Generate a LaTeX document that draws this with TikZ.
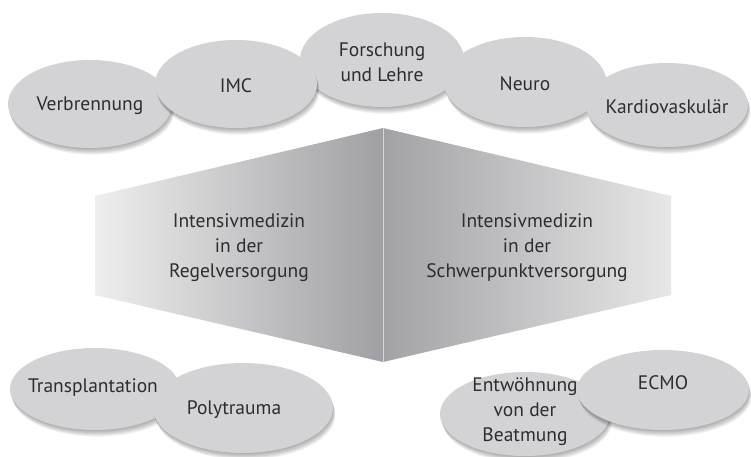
\documentclass[tikz,border=0pt]{standalone}
\usepackage{fontspec}
\setmainfont{PT Sans}
\usetikzlibrary{shapes.geometric}
\definecolor{bubblegray}{RGB}{211,211,213}
\definecolor{textgray}{RGB}{45,45,47}
\definecolor{panellight}{RGB}{238,238,238}
\definecolor{paneldark}{RGB}{160,160,164}
\definecolor{foldline}{RGB}{215,215,217}
\newcommand\bubbleshape[5]{%
  \foreach \s in {1,...,8} {%
    \node[shadowlayer, minimum width=#4pt, minimum height=#5pt] (#1s\s) at (#2+\s*0.3, #3+\s*0.85) {};}
  \node[bubble, minimum width=#4pt, minimum height=#5pt] (#1) at (#2,#3) {};}
\begin{document}
\begin{tikzpicture}[x=1pt,y=-1pt,
  shadowlayer/.style={ellipse, fill=black, fill opacity=0.045, draw=none, inner sep=0pt},
  bubble/.style={ellipse, fill=bubblegray, draw=none, inner sep=0pt},
  lbl/.style={text=textgray, align=center, inner sep=0pt, font=\fontsize{19.5}{25}\selectfont},
  panel/.style={draw=none}]
\useasboundingbox[fill=white] (0,0) rectangle (751,457);

% central panels
\coordinate (ptop) at (383,128);
\coordinate (pbot) at (383,362);
\coordinate (plt) at (95,196);
\coordinate (plb) at (95,295);
\coordinate (prt) at (671,196);
\coordinate (prb) at (671,295);
\shade[panel, left color=panellight, right color=paneldark] (plt) -- (ptop) -- (pbot) -- (plb) -- cycle;
\shade[panel, left color=paneldark!98!white, right color=panellight!97!black] (ptop) -- (prt) -- (prb) -- (pbot) -- cycle;
\draw[foldline, line width=0.8pt] (ptop) -- (pbot);
\node[lbl] (regel) at (239,248) {Intensivmedizin\\in der\\Regelversorgung};
\node[lbl] (schwer) at (527,248) {Intensivmedizin\\in der\\Schwerpunktversorgung};

% top row
\bubbleshape{fl}{382}{60}{164}{94}
\node[lbl] (flt) at (382,62) {Forschung\\und Lehre};
\bubbleshape{vb}{90}{104}{164}{88}
\node[lbl] (vbt) at (90,106) {Verbrennung};
\bubbleshape{imc}{236}{84}{162}{88}
\node[lbl] (imct) at (236,86) {IMC};
\bubbleshape{neuro}{525}{82}{162}{90}
\node[lbl] (neurot) at (525,84) {Neuro};
\bubbleshape{kv}{667}{105}{162}{84}
\node[lbl] (kvt) at (667,107) {Kardiovaskulär};

% bottom row
\bubbleshape{tp}{95}{389}{170}{82}
\node[lbl] (tpt) at (93,388) {Transplantation};
\bubbleshape{pt}{243}{408}{180}{90}
\node[lbl] (ptt) at (234,410) {Polytrauma};
\bubbleshape{ew}{525}{414}{170}{84}
\node[lbl] (ewt) at (525,412) {Entwöhnung\\von der\\Beatmung};
\bubbleshape{ecmo}{663}{390}{172}{80}
\node[lbl] (ecmot) at (663,383) {ECMO};
\end{tikzpicture}
\end{document}
